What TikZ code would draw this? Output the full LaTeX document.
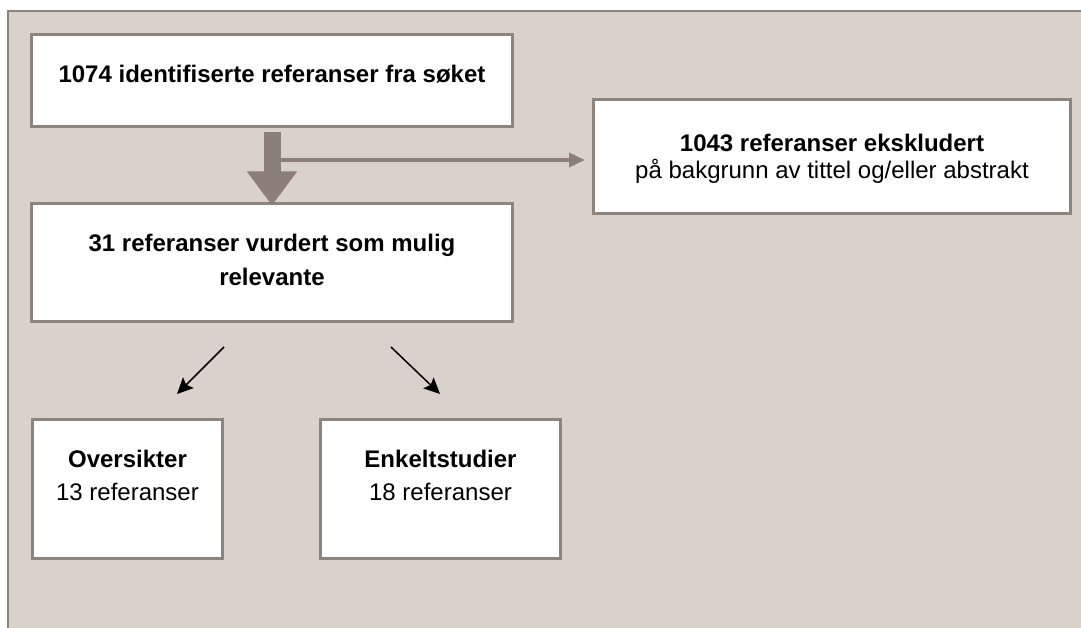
\documentclass[tikz,border=0pt]{standalone}
\usepackage{fontspec}
\setmainfont{Liberation Sans}
\usetikzlibrary{arrows.meta}
\definecolor{bg}{HTML}{D9D2CB}
\definecolor{brd}{HTML}{8E847B}
\definecolor{arr}{HTML}{8B7F77}
\tikzset{
  box/.style={draw=brd, line width=3pt, fill=white, inner sep=0pt},
  ln/.style={anchor=base, inner sep=0pt, font=\fontsize{24}{28}\selectfont},
  bln/.style={ln, font=\fontsize{24}{28}\selectfont\bfseries},
  blackarrow/.style={line width=1.5pt, -{Stealth[length=16pt,width=15pt,inset=3pt]}},
}
\begin{document}
\begin{tikzpicture}[x=1pt,y=-1pt]
\useasboundingbox (0,0) rectangle (1081,628);
\fill[bg] (8,11) rectangle (1081,628);
\draw[brd, line width=2pt] (8,628) -- (8,11) -- (1081,11);

\node[box, minimum width=481pt, minimum height=92pt] (box1) at (272,80.5) {};
\node[box, minimum width=481pt, minimum height=118pt] (box2) at (272,262.5) {};
\node[box, minimum width=477pt, minimum height=114pt] (box3) at (832,156.5) {};
\node[box, minimum width=190pt, minimum height=139pt] (box4) at (127.5,489) {};
\node[box, minimum width=240pt, minimum height=139pt] (box5) at (440.5,489) {};

\node[bln] (t1) at (272,83) {1074 identifiserte referanser fra søket};
\node[bln] (t2a) at (272,252) {31 referanser vurdert som mulig};
\node[bln] (t2b) at (272,285) {relevante};
\node[bln] (t3a) at (832,152) {1043 referanser ekskludert};
\node[ln] (t3b) at (832,179) {på bakgrunn av tittel og/eller abstrakt};
\node[bln] (t4a) at (127.5,467) {Oversikter};
\node[ln] (t4b) at (127.5,500) {13 referanser};
\node[bln] (t5a) at (440.5,467) {Enkeltstudier};
\node[ln] (t5b) at (440.5,500) {18 referanser};

% big arrow
\draw[arr, line width=17pt, shorten <=4.5pt, shorten >=-3.5pt,
  -{Triangle[width=48pt,length=34pt]}] (box1.south) -- (box2.north);
% side arrow
\coordinate (split) at (281,160);
\draw[arr, line width=3.5pt, shorten >=7pt, -{Triangle[width=14pt,length=16pt]}]
  (split) -- (split -| box3.west);
% black arrows
\coordinate (la) at (224,347);
\coordinate (lb) at (177,394);
\coordinate (ra) at (391,347);
\coordinate (rb) at (440,394);
\draw[blackarrow] (la) -- (lb);
\draw[blackarrow] (ra) -- (rb);
\end{tikzpicture}
\end{document}
